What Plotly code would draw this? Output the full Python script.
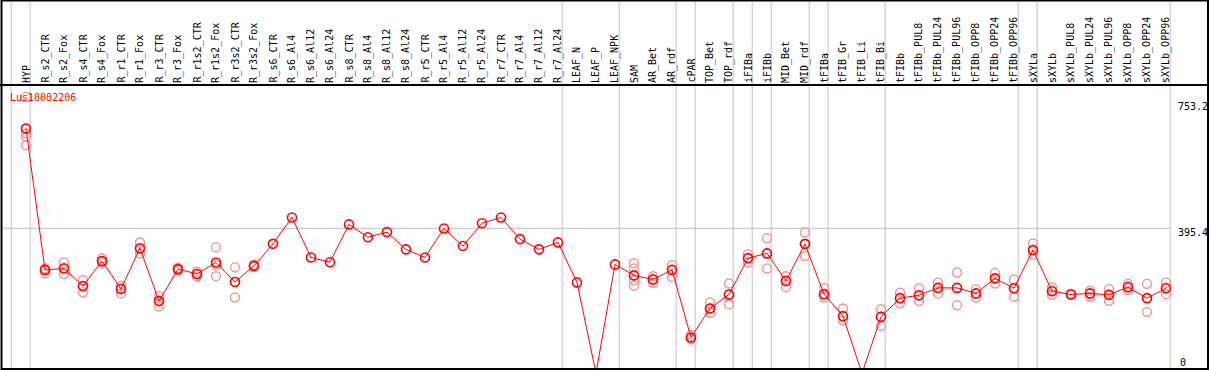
import plotly.graph_objects as go

categories = ["HYP", "R_s2_CTR", "R_s2_Fox", "R_s4_CTR", "R_s4_Fox", "R_r1_CTR", "R_r1_Fox",
              "R_r3_CTR", "R_r3_Fox", "R_r1s2_CTR", "R_r1s2_Fox", "R_r3s2_CTR", "R_r3s2_Fox",
              "R_s6_CTR", "R_s6_Al4", "R_s6_Al12", "R_s6_Al24", "R_s8_CTR", "R_s8_Al4", "R_s8_Al12",
              "R_s8_Al24", "R_r5_CTR", "R_r5_Al4", "R_r5_Al12", "R_r5_Al24", "R_r7_CTR", "R_r7_Al4",
              "R_r7_Al12", "R_r7_Al24", "LEAF_N", "LEAF_P", "LEAF_NPK", "SAM", "AR_Bet", "AR_rdf",
              "cPAR", "TOP_Bet", "TOP_rdf", "iFIBa", "iFIBb", "MID_Bet", "MID_rdf", "tFIBa",
              "tFIB_Gr", "tFIB_Li", "tFIB_Bi", "tFIBb", "tFIBb_PUL8", "tFIBb_PUL24", "tFIBb_PUL96",
              "tFIBb_OPP8", "tFIBb_OPP24", "tFIBb_OPP96", "sXYLa", "sXYLb", "sXYLb_PUL8",
              "sXYLb_PUL24", "sXYLb_PUL96", "sXYLb_OPP8", "sXYLb_OPP24", "sXYLb_OPP96"]

mean_values = [667, 282, 286, 238, 306, 230, 341, 197, 284, 271, 302, 249, 293,
               353, 425, 316, 303, 406, 371, 385, 338, 316, 395, 347, 409, 425, 366, 338, 357,
               248, 0, 297, 267, 256, 282, 98, 177, 215, 314, 327, 252, 353, 216,
               156, 0, 154, 205, 213, 233, 233, 218, 259, 232, 336,
               224, 215, 218, 214, 235, 205, 232]

replicates = [[753.2, 654, 645, 622], [286, 280, 273], [302, 287, 271], [254, 238, 221],
              [314, 306, 300], [238, 231, 218], [357, 340, 327], [211, 198, 182],
              [288, 283, 280], [277, 271, 264], [344, 296, 265], [289, 250, 207], [296, 292, 290],
              [], [], [], [], [], [], [], [], [], [], [], [], [], [], [], [],
              [], [], [], [300, 286, 254, 239], [265, 256, 247], [295, 282, 263],
              [105, 98, 93], [193, 177, 165], [245, 215, 188], [325, 314, 302], [368, 327, 286],
              [265, 252, 235], [384, 352, 320], [232, 216, 207], [177, 156, 144], [],
              [175, 155, 129], [220, 205, 191], [232, 213, 197], [247, 233, 218], [275, 233, 186],
              [229, 218, 207], [274, 259, 245], [256, 232, 209], [354, 336, 323],
              [235, 225, 214], [217, 215, 214], [225, 218, 209], [230, 214, 198],
              [244, 235, 227], [244, 205, 167], [247, 232, 216]]

group_ends = ["HYP", "R_r7_Al24", "LEAF_NPK", "AR_rdf", "cPAR", "TOP_rdf", "iFIBa", "iFIBb",
              "MID_rdf", "tFIBa", "tFIB_Bi", "tFIBb_OPP96", "sXYLa", "sXYLb_OPP96"]

gene_label = "Lus10002206"
axis_labels = ["753.2", "395.4", "0"]
ref_line = 395.4

W, H = 1209, 370
x_idx = list(range(len(categories)))

rep_x, rep_y = [], []
for i, reps in enumerate(replicates):
    for v in reps:
        rep_x.append(i)
        rep_y.append(v)

fig = go.Figure()
fig.add_trace(go.Scatter(
    x=rep_x, y=rep_y, mode="markers",
    marker=dict(symbol="circle-open", size=9, color="#f09898", line=dict(width=1.5, color="#f09898")),
    cliponaxis=False, hoverinfo="skip", showlegend=False))
fig.add_trace(go.Scatter(
    x=x_idx, y=mean_values, mode="lines+markers",
    line=dict(color="#ff0000", width=1),
    marker=dict(symbol="circle-open", size=9, color="#ff0000", line=dict(width=1.6, color="#ff0000")),
    cliponaxis=False, hoverinfo="skip", showlegend=False))

px_per_cat = 19.0
x0_px = 26.0
x_range = [-x0_px / px_per_cat, (W - x0_px) / px_per_cat]
zero_px = 373.4
px_per_unit = 0.367
y_range = [(zero_px - H) / px_per_unit, zero_px / px_per_unit]

def py(p):
    return 1 - p / H

def pxx(p):
    return p / W

shapes = []
grid_col = "#c4c4c4"
shapes.append(dict(type="line", xref="paper", yref="y", x0=pxx(1.5), x1=pxx(1170), y0=ref_line, y1=ref_line,
                   line=dict(color=grid_col, width=1), layer="below"))
sep_positions = [-1 + 0.22] + [categories.index(c) + 0.22 for c in group_ends]
for s in sep_positions:
    shapes.append(dict(type="line", xref="x", yref="paper", x0=s, x1=s, y0=py(369), y1=1,
                       line=dict(color=grid_col, width=1), layer="below"))
shapes.append(dict(type="line", xref="paper", yref="paper", x0=0, x1=1, y0=py(85), y1=py(85),
                   line=dict(color="black", width=2)))
shapes.append(dict(type="rect", xref="paper", yref="paper", x0=pxx(1.5), x1=pxx(1208), y0=py(369), y1=py(0.5),
                   line=dict(color="black", width=2), fillcolor="rgba(0,0,0,0)"))

annotations = []
mono = "DejaVu Sans Mono"
for i, c in enumerate(categories):
    annotations.append(dict(x=i, y=py(84), xref="x", yref="paper", text=c, showarrow=False,
                            textangle=-90, xanchor="center", yanchor="bottom",
                            font=dict(family=mono, size=10, color="black"), borderpad=0))
annotations.append(dict(x=pxx(9), y=py(97.5), xref="paper", yref="paper", text=gene_label, showarrow=False,
                        xanchor="left", yanchor="middle", font=dict(family=mono, size=10, color="#ff0000"),
                        borderpad=0))
label_centers = [107, 232, 362]
label_left = [1177, 1177, 1179]
for t, yc, xl in zip(axis_labels, label_centers, label_left):
    annotations.append(dict(x=pxx(xl), y=py(yc), xref="paper", yref="paper", text=t, showarrow=False,
                            xanchor="left", yanchor="middle", font=dict(family=mono, size=10, color="black"),
                            borderpad=0))

fig.update_layout(
    width=W, height=H, margin=dict(l=0, r=0, t=0, b=0),
    paper_bgcolor="white", plot_bgcolor="white",
    xaxis=dict(range=x_range, visible=False, fixedrange=True),
    yaxis=dict(range=y_range, visible=False, fixedrange=True),
    shapes=shapes, annotations=annotations, showlegend=False)

fig.write_html("out.html", config={"displayModeBar": False},
               post_script="document.body.style.margin='0px';document.body.style.overflow='hidden';")
